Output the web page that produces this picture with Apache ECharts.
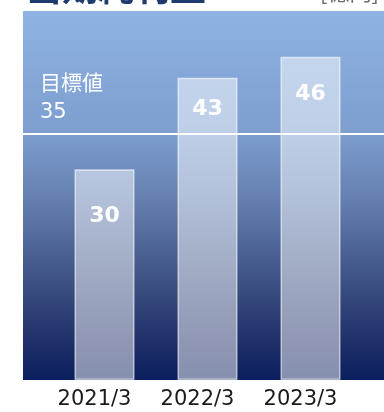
<!DOCTYPE html>
<html>
<head>
<meta charset="utf-8">
<style>
  html, body { margin: 0; padding: 0; background: #ffffff; }
  #chart { width: 384px; height: 412px; }
</style>
<script src="https://cdn.jsdelivr.net/npm/echarts@6/dist/echarts.min.js"></script>
</head>
<body>
<div id="chart"></div>
<script>
// Fiscal years and net income (100 million yen)
const categories = ['2021/3', '2022/3', '2023/3'];
const netIncome = [30, 43, 46];
const target = 35;
const targetLabel = '目標値';
const title = '当期純利益';
const unit = '[億円]';

// space between the top of each bar and its value label
const labelGap = [36, 21, 27];

const FONT = '"DejaVu Sans", Verdana, "Noto Sans CJK JP", sans-serif';
const Y_MAX = 52.5;

const chart = echarts.init(document.getElementById('chart'), null, { renderer: 'canvas' });

const background = new echarts.graphic.LinearGradient(0, 0, 0, 1, [
  { offset: 0, color: '#8eb3e3' },
  { offset: 0.33, color: '#7d9ecf' },
  { offset: 0.5, color: '#6681b2' },
  { offset: 0.65, color: '#4c6294' },
  { offset: 0.78, color: '#34477b' },
  { offset: 0.9, color: '#1f2f69' },
  { offset: 1, color: '#0a1f5e' }
]);

chart.setOption({
  animation: false,
  graphic: [
    {
      type: 'text', left: 26, top: -31, z: 10,
      style: {
        text: title, fill: '#1e3a6e',
        font: 'bold 36px "Noto Sans CJK JP", sans-serif'
      }
    },
    {
      type: 'text', left: 320, top: -19, z: 10,
      style: {
        text: unit, fill: '#6b6b6b',
        font: '22px "Noto Sans CJK JP", sans-serif'
      }
    }
  ],
  grid: [
    // panel with the gradient and the target line
    { left: 23, right: 0, top: 11, bottom: 32, show: true, borderWidth: 0, backgroundColor: background },
    // bars
    { left: 53, right: 22, top: 11, bottom: 32 }
  ],
  xAxis: [
    { gridIndex: 0, type: 'value', min: 0, max: 1, show: false },
    {
      gridIndex: 1, type: 'category', data: categories,
      axisLine: { show: false }, axisTick: { show: false },
      axisLabel: {
        color: '#1a1a1a', fontSize: 21, fontFamily: FONT, margin: 9,
        padding: [0, 20, 0, 0]
      }
    }
  ],
  yAxis: [
    { gridIndex: 0, type: 'value', min: 0, max: Y_MAX, show: false },
    { gridIndex: 1, type: 'value', min: 0, max: Y_MAX, show: false }
  ],
  series: [
    {
      type: 'line', xAxisIndex: 0, yAxisIndex: 0, data: [], silent: true,
      markLine: {
        symbol: 'none', silent: true,
        lineStyle: { color: '#ffffff', width: 2, type: 'solid' },
        label: {
          show: true, position: 'insideStartTop', distance: [17, 7],
          formatter: targetLabel + '\n' + target,
          color: '#ffffff', fontSize: 21, lineHeight: 28, fontFamily: FONT,
          align: 'left'
        },
        data: [{ yAxis: target }]
      }
    },
    {
      type: 'bar', xAxisIndex: 1, yAxisIndex: 1,
      barWidth: 60,
      data: netIncome.map((v, i) => ({
        value: v,
        label: { distance: labelGap[i] }
      })),
      itemStyle: {
        color: 'rgba(255,255,255,0.5)',
        borderColor: 'rgba(255,255,255,0.6)',
        borderWidth: 1.5
      },
      label: {
        show: true, position: 'insideTop',
        color: '#ffffff', fontSize: 22, fontWeight: 'bold', fontFamily: FONT
      }
    }
  ]
});
</script>
</body>
</html>
